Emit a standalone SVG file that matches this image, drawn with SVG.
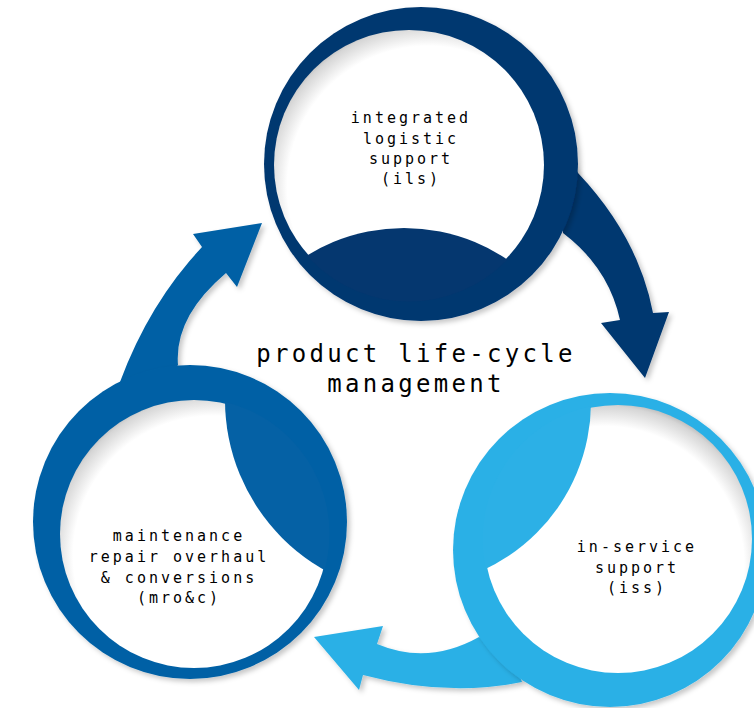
<svg xmlns="http://www.w3.org/2000/svg" width="754" height="708" viewBox="0 0 754 708">
<style>
.lbl{font-family:"DejaVu Sans Mono","Liberation Mono",monospace;font-size:15px;letter-spacing:3px;fill:#000;text-anchor:middle}
.title{font-family:"DejaVu Sans Mono","Liberation Mono",monospace;font-size:24px;letter-spacing:3.3px;fill:#000;text-anchor:middle}
.navy{fill:#05376f}
.mid{fill:#0561a5}
.light{fill:#2cb0e6}
</style>
<defs>
<filter id="sh" x="-10%" y="-10%" width="130%" height="130%">
<feDropShadow dx="3" dy="3" stdDeviation="2.5" flood-color="#000" flood-opacity="0.22"/>
</filter>
<radialGradient id="inA" cx="0.57" cy="0.58" r="0.62">
<stop offset="0.84" stop-color="#fff"/>
<stop offset="0.96" stop-color="#d6d6d6"/>
<stop offset="1" stop-color="#b5b5b5"/>
</radialGradient>
<radialGradient id="inB" cx="0.45" cy="0.6" r="0.62">
<stop offset="0.84" stop-color="#fff"/>
<stop offset="0.96" stop-color="#d6d6d6"/>
<stop offset="1" stop-color="#b5b5b5"/>
</radialGradient>
<clipPath id="cTop"><circle cx="409" cy="165" r="136.5"/></clipPath>
<clipPath id="cLeft"><circle cx="194" cy="534" r="135.5"/></clipPath>
<clipPath id="cRight"><circle cx="618" cy="539" r="135.5"/></clipPath>
</defs>
<rect width="754" height="708" fill="#fff"/>

<g id="connectors" filter="url(#sh)">
<path id="arrow-ils-iss" class="navy" d="M560,140 L578,173 Q638.5,237 653,313 L669,312 L645,378 L601,323 L620,320 Q608.5,267.5 563,233 Z"/>
<path id="arrow-mro-ils" class="mid" d="M150,400 L120,382 Q149,303.5 202,247 L193,234 L262,223 L237,287 L226,273 Q174,317 178,365 Z"/>
<path id="arrow-iss-mro" class="light" d="M510,650 L479,637 Q428,665.5 377,644 L383,626 L314,637 L359,690 L363,675 Q447.5,697.5 522,682 Z"/>
</g>

<g id="node-ils">
<circle class="navy" cx="421" cy="164" r="157" filter="url(#sh)"/>
<circle cx="409" cy="165" r="135" fill="url(#inA)"/>
<circle class="navy" cx="404" cy="413" r="185" clip-path="url(#cTop)"/>
<text class="lbl" x="411" y="123">integrated</text>
<text class="lbl" x="411" y="144">logistic</text>
<text class="lbl" x="411" y="164">support</text>
<text class="lbl" x="411" y="184">(ils)</text>
</g>

<g id="node-mro">
<circle class="mid" cx="190" cy="522" r="157" filter="url(#sh)"/>
<circle cx="194" cy="534" r="134" fill="url(#inA)"/>
<circle class="mid" cx="420" cy="400" r="195" clip-path="url(#cLeft)"/>
<text class="lbl" x="179" y="541">maintenance</text>
<text class="lbl" x="179" y="562">repair overhaul</text>
<text class="lbl" x="179" y="583">&amp; conversions</text>
<text class="lbl" x="179" y="603">(mro&amp;c)</text>
</g>

<g id="node-iss">
<circle class="light" cx="610" cy="550" r="157" filter="url(#sh)"/>
<circle cx="618" cy="539" r="134" fill="url(#inB)"/>
<circle class="light" cx="406" cy="402" r="185" clip-path="url(#cRight)"/>
<text class="lbl" x="637" y="552">in-service</text>
<text class="lbl" x="637" y="573">support</text>
<text class="lbl" x="637" y="593">(iss)</text>
</g>

<g id="title">
<text class="title" x="416" y="362">product life-cycle</text>
<text class="title" x="416" y="392">management</text>
</g>
</svg>
